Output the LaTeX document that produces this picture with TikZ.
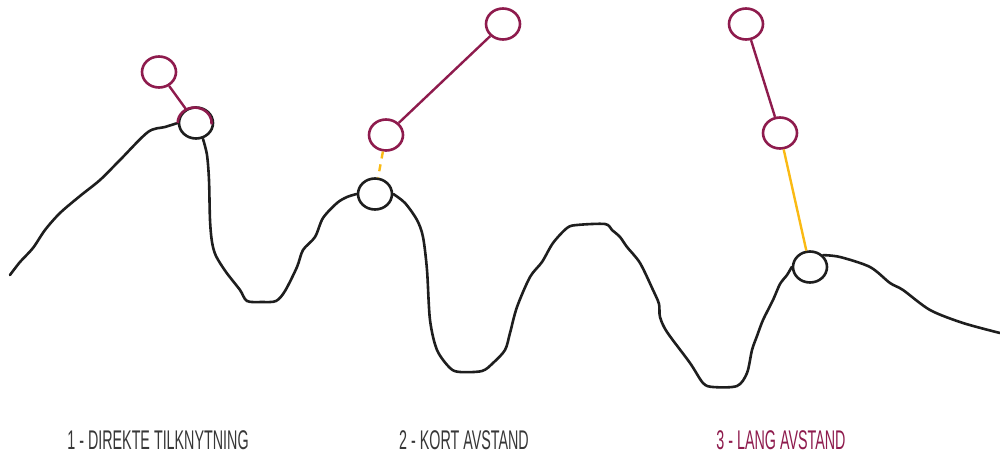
\documentclass[tikz,border=0pt]{standalone}
\usepackage{fontspec}
\setmainfont{Liberation Sans}[FakeStretch=0.53]
\usepackage{xcolor}
\usepackage{tikz}
\usetikzlibrary{shapes.geometric, positioning, calc}
\definecolor{plum}{RGB}{142,27,77}
\definecolor{amber}{RGB}{250,186,20}
\definecolor{ink}{RGB}{30,30,30}
\definecolor{caption}{RGB}{55,55,55}
\tikzstyle{ground} = [draw=ink, line width=2.6pt, line cap=round, line join=round]
\tikzstyle{anchorpt} = [ellipse, draw=ink, line width=2.6pt, minimum width=34pt, minimum height=31pt, inner sep=0pt]
\tikzstyle{graft} = [ellipse, draw=plum, line width=2.6pt, minimum width=34pt, minimum height=31pt, inner sep=0pt]
\tikzstyle{link} = [draw=plum, line width=2.4pt]
\tikzstyle{reach} = [draw=amber, line width=2.4pt]
\tikzstyle{label} = [font=\fontsize{27}{30}\selectfont, text=caption, inner sep=0pt]

\begin{document}
\begin{tikzpicture}[x=1pt, y=-1pt]
    \useasboundingbox (0,0) rectangle (1000,454);
    % Nodes
    \node (g1) [anchorpt] at (196,123) {};
    \node (g2) [anchorpt] at (375,194) {};
    \node (g3) [anchorpt] at (810,267) {};

    \node (a1) [graft] at (159,72) {};
    \node (b1) [graft] at (386,135) {};
    \node (b2) [graft] at (503,24) {};
    \node (c1) [graft] at (780,133) {};
    \node (c2) [graft] at (746,24) {};

    % Terrain
    \draw [ground] plot [smooth, tension=0.5] coordinates {(10,275) (20,262) (33,248) (45,230) (60,213) (80,196) (100,180) (120,160) (148,132) (165,127) (g1.west)};
    \draw [ground] plot [smooth, tension=0.5] coordinates {(203,139) (207,155) (209,180) (210,220) (212,242) (216,256) (226,272) (240,290) (247,301) (262,302) (276,301) (285,291) (297,267) (303,250) (315,237) (323,218) (337,203) (347,197) (g2.west)};
    \draw [ground] plot [smooth, tension=0.5] coordinates {(g2.east) (405,203) (417,220) (423,237) (427,270) (430,320) (437,350) (450,368) (460,372) (482,371) (493,363) (505,350) (510,333) (517,307) (530,277) (542,262) (553,243) (567,228) (577,225) (605,224) (612,230) (620,237) (627,247) (640,263) (653,290) (659,304) (660,317) (667,332) (690,363) (703,383) (713,387) (737,386) (747,373) (752,350) (757,336) (763,320) (773,300) (780,284) (787,275) (g3.west)};
    \draw [ground] plot [smooth, tension=0.5] coordinates {(g3.north east) (840,257) (870,267) (890,283) (903,290) (930,310) (963,323) (1000,333)};

    % half-grafted top of the first point
    \draw [plum, line width=2.6pt] (g1.west) arc [start angle=180, end angle=-5, x radius=17pt, y radius=15.5pt];

    % Links
    \draw [link] (a1) -- (g1);
    \draw [link] (b1) -- (b2);
    \draw [link] (c2) -- (c1);
    \draw [reach, dashed, dash pattern=on 7pt off 6pt] (b1) -- (g2);
    \draw [reach] (c1) -- (g3);

    % Labels
    \node (l1) [label] at (158,440) {1 - DIREKTE TILKNYTNING};
    \node (l2) [label] at (464,440) {2 - KORT AVSTAND};
    \node (l3) [label, text=plum] at (781,440) {3 - LANG AVSTAND};
\end{tikzpicture}
\end{document}
